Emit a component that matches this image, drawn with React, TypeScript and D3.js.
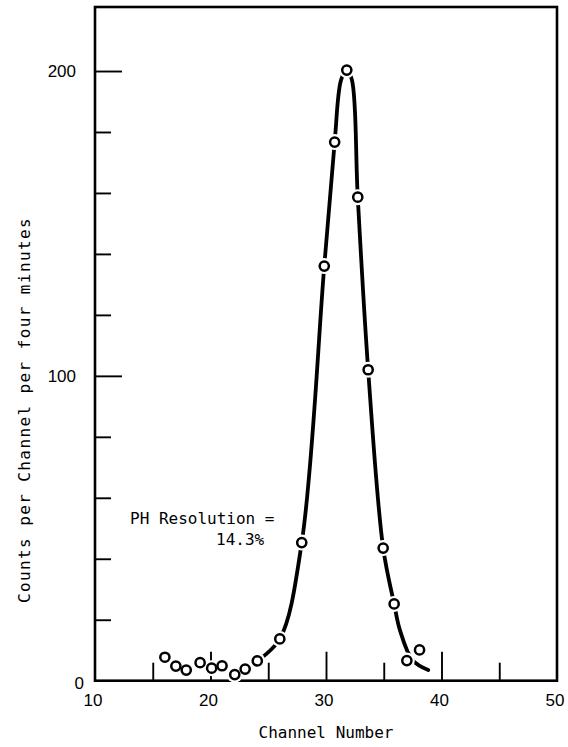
import { useRef, useEffect } from "react";
import * as d3 from "d3";

const width = 568;
const height = 747;

// measured points: channel number vs counts per channel per four minutes
const channels = [16.05, 17.0, 17.9, 19.1, 20.1, 21.0, 22.1, 23.0, 24.05, 26.0, 27.9, 29.85, 30.75, 31.8, 32.75, 33.65, 34.95, 35.9, 37.0, 38.1];
const counts = [7.7, 4.8, 3.5, 5.9, 4.1, 4.9, 2.0, 3.8, 6.5, 13.7, 45.3, 136, 176.7, 200.3, 158.6, 102, 43.5, 25.2, 6.6, 10.1];

// the hand drawn curve through the peak
const curveChannels = [24.05, 26.0, 27.9, 29.85, 30.75, 31.3, 31.8, 32.25, 32.75, 33.65, 34.95, 35.9, 36.4, 37.5, 38.85];
const curveCounts = [6.5, 13.7, 45.3, 136, 176.7, 197, 200.5, 197, 158.6, 102, 43.5, 25.2, 16.6, 6.7, 3.5];

const xExtent = [10, 50];
const yExtent = [0, 221];
const xMajor = [20, 30, 40];
const xMinor = [15, 25, 35, 45];
const xLabels = [10, 20, 30, 40, 50];
const yMajor = [100, 200];
const yMinor = [20, 40, 60, 80, 120, 140, 160, 180];
const yLabels = [0, 100, 200];

const xTitle = "Channel Number";
const yTitle = "Counts per Channel per four minutes";
const note1 = "PH Resolution =";
const note2 = "14.3%";

const mono = "'DejaVu Sans Mono', monospace";
const sans = "'Liberation Sans', Arial, sans-serif";

export default function App() {
  const root = useRef<SVGSVGElement>(null);

  useEffect(() => {
    const svg = d3.select(root.current);
    svg.selectAll("*").remove();

    const x = d3.scaleLinear().domain(xExtent).range([95, 557]);
    const y = d3.scaleLinear().domain(yExtent).range([680.7, 7]);

    // frame
    svg.append("rect")
      .attr("x", x(10)).attr("y", y(221))
      .attr("width", x(50) - x(10)).attr("height", y(0) - y(221))
      .attr("fill", "none").attr("stroke", "#000").attr("stroke-width", 2.6);

    // ticks pointing inward
    const tickG = (axis: d3.Axis<d3.NumberValue>, tf: string) => {
      const g = svg.append("g").attr("transform", tf).call(axis);
      g.select(".domain").remove();
      g.selectAll("line").attr("stroke", "#000").attr("stroke-width", 1.9);
      g.selectAll("text").remove();
    };
    tickG(d3.axisBottom(x).tickValues(xMajor).tickSizeInner(-29).tickSizeOuter(0), `translate(0,${y(0)})`);
    tickG(d3.axisBottom(x).tickValues(xMinor).tickSizeInner(-18).tickSizeOuter(0), `translate(0,${y(0)})`);
    tickG(d3.axisLeft(y).tickValues(yMajor).tickSizeInner(-27).tickSizeOuter(0), `translate(${x(10)},0)`);
    tickG(d3.axisLeft(y).tickValues(yMinor).tickSizeInner(-16).tickSizeOuter(0), `translate(${x(10)},0)`);

    // tick labels
    svg.append("g").selectAll("text").data(xLabels).enter().append("text")
      .attr("x", d => x(d) - 2).attr("y", 706)
      .attr("text-anchor", "middle")
      .attr("font-family", sans).attr("font-size", 17)
      .text(d => d);
    svg.append("g").selectAll("text").data(yLabels).enter().append("text")
      .attr("x", d => (d === 0 ? 84 : 76)).attr("y", d => y(d) + (d === 0 ? 8 : 6))
      .attr("text-anchor", "end")
      .attr("font-family", sans).attr("font-size", 17)
      .text(d => d);

    // titles
    svg.append("text")
      .attr("x", x(30)).attr("y", 738)
      .attr("text-anchor", "middle")
      .attr("font-family", mono).attr("font-size", 16)
      .text(xTitle);
    svg.append("text")
      .attr("transform", `translate(30,410) rotate(-90)`)
      .attr("text-anchor", "middle")
      .attr("font-family", mono).attr("font-size", 16)
      .attr("letter-spacing", 1.4)
      .text(yTitle);

    // annotation
    svg.append("text")
      .attr("x", 130).attr("y", 524)
      .attr("font-family", mono).attr("font-size", 16)
      .text(note1);
    svg.append("text")
      .attr("x", 216).attr("y", 545)
      .attr("font-family", mono).attr("font-size", 16)
      .text(note2);

    // curve
    const curveData = curveChannels.map((c, i) => [c, curveCounts[i]] as [number, number]);
    const line = d3.line<[number, number]>()
      .x(d => x(d[0])).y(d => y(d[1]))
      .curve(d3.curveCatmullRom.alpha(0.5));
    svg.append("path")
      .attr("d", line(curveData))
      .attr("fill", "none").attr("stroke", "#000").attr("stroke-width", 3.8)
      .attr("stroke-linecap", "round");

    // points with a white halo, like the gaps in the drawn line
    const pts = channels.map((c, i) => [c, counts[i]] as [number, number]);
    svg.append("g").selectAll("circle").data(pts).enter().append("circle")
      .attr("cx", d => x(d[0])).attr("cy", d => y(d[1]))
      .attr("r", 8).attr("fill", "#fff");
    svg.append("g").selectAll("circle").data(pts).enter().append("circle")
      .attr("cx", d => x(d[0])).attr("cy", d => y(d[1]))
      .attr("r", 4.6).attr("fill", "#fff")
      .attr("stroke", "#000").attr("stroke-width", 2.5);
  }, []);

  return (
    <div style={{ position: "absolute", left: 0, top: 0 }}>
      <svg ref={root} width={width} height={height} style={{ display: "block", background: "#fff" }} />
    </div>
  );
}
